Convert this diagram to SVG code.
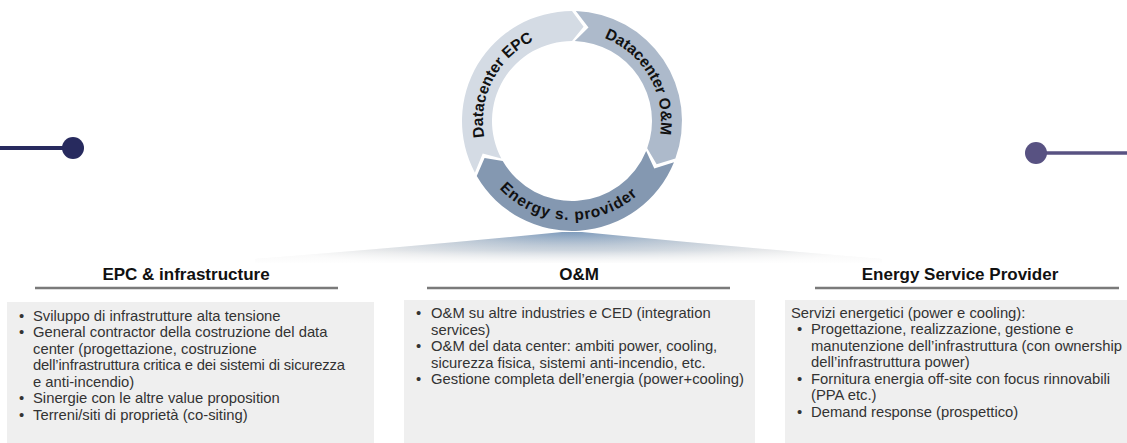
<svg xmlns="http://www.w3.org/2000/svg" width="1127" height="443" viewBox="0 0 1127 443">
  <style>
    .ring-label { font-family: "Liberation Sans", Arial, sans-serif; font-size: 15.5px; font-weight: bold; fill: #111; }
    .head { font-family: "Liberation Sans", Arial, sans-serif; font-size: 17px; font-weight: bold; fill: #111; text-anchor: middle; }
    .body { font-family: "Liberation Sans", Arial, sans-serif; font-size: 14.8px; fill: #333; }
    .rule { stroke: #7a7a7a; stroke-width: 2.5; }
    .panel { fill: #efefef; }
  </style>
  <defs>
    <radialGradient id="stageFill" gradientUnits="userSpaceOnUse" cx="572" cy="232" r="330" gradientTransform="translate(0,232) scale(1,0.12) translate(0,-232)">
      <stop offset="0" stop-color="#7e9bbc"/>
      <stop offset="0.35" stop-color="#b3c1d0"/>
      <stop offset="0.75" stop-color="#e2e4e6"/>
      <stop offset="1" stop-color="#f6f6f6"/>
    </radialGradient>
    <linearGradient id="stageFade" x1="0" y1="232" x2="0" y2="263" gradientUnits="userSpaceOnUse">
      <stop offset="0" stop-color="#fff" stop-opacity="0"/>
      <stop offset="0.6" stop-color="#fff" stop-opacity="0.2"/>
      <stop offset="1" stop-color="#fff" stop-opacity="0.9"/>
    </linearGradient>
    <path id="arcEPC" d="M497.36,169.47 A89,89 0 0 1 567.34,32.12"/>
    <path id="arcOM" d="M572,32 A89,89 0 0 1 649.08,165.5"/>
    <path id="arcESP" d="M484.19,166.71 A99,99 0 0 0 655.5,174.19"/>
  </defs>

  <!-- side timeline markers -->
  <g id="marker-left">
    <line x1="0" y1="148" x2="66" y2="148" stroke="#272a5e" stroke-width="4"/>
    <circle cx="73" cy="148" r="11" fill="#272a5e"/>
  </g>
  <g id="marker-right">
    <line x1="1040" y1="153" x2="1127" y2="153" stroke="#585282" stroke-width="3.5"/>
    <circle cx="1036" cy="153" r="11" fill="#585282"/>
  </g>

  <!-- cycle of three arrow segments -->
  <g id="cycle-epc">
    <path d="M474.88,172.64 A110,110 0 0 1 572,11 L583.58,26.71 L572,41 A80,80 0 0 0 501.36,158.56 L482.73,153.49 Z" fill="#d4dbe4"/>
    <text class="ring-label"><textPath href="#arcEPC" startOffset="50%" text-anchor="middle">Datacenter EPC</textPath></text>
  </g>
  <g id="cycle-om">
    <path d="M575.84,11.07 A110,110 0 0 1 675.37,158.62 L656.65,164.13 L647.18,148.36 A80,80 0 0 0 574.79,41.05 L588.5,27.44 Z" fill="#adbacb"/>
    <text class="ring-label"><textPath href="#arcOM" startOffset="50%" text-anchor="middle">Datacenter O&amp;M</textPath></text>
  </g>
  <g id="cycle-energy">
    <path d="M673.99,162.21 A110,110 0 0 1 476.74,176 L484.55,158.12 L502.72,161 A80,80 0 0 0 646.17,150.97 L654.27,168.5 Z" fill="#8498b1"/>
    <text class="ring-label" letter-spacing="1"><textPath href="#arcESP" startOffset="50%" text-anchor="middle">Energy s. provider</textPath></text>
  </g>

  <!-- stage under the cycle -->
  <g id="stage">
    <path d="M255,259 Q420,246 562,232 L582,232 Q724,246 882,259 L882,263 L255,263 Z" fill="url(#stageFill)"/>
    <path d="M255,259 Q420,246 562,232 L582,232 Q724,246 882,259 L882,263 L255,263 Z" fill="url(#stageFade)"/>
  </g>

  <!-- EPC column -->
  <g id="col-epc">
    <text class="head" x="186" y="280">EPC &amp; infrastructure</text>
    <line class="rule" x1="35" y1="288" x2="338" y2="288"/>
    <rect class="panel" x="7" y="302" width="367" height="141"/>
    <g class="body">
      <text x="19" y="320.5">•</text><text x="33" y="320.5">Sviluppo di infrastrutture alta tensione</text>
      <text x="19" y="337">•</text><text x="33" y="337">General contractor della costruzione del data</text>
      <text x="33" y="353.5">center (progettazione, costruzione</text>
      <text x="33" y="370" textLength="312" lengthAdjust="spacing">dell’infrastruttura critica e dei sistemi di sicurezza</text>
      <text x="33" y="386.5">e anti-incendio)</text>
      <text x="19" y="403">•</text><text x="33" y="403">Sinergie con le altre value proposition</text>
      <text x="19" y="419.5">•</text><text x="33" y="419.5">Terreni/siti di proprietà (co-siting)</text>
    </g>
  </g>

  <!-- O&M column -->
  <g id="col-om">
    <text class="head" x="579" y="280">O&amp;M</text>
    <line class="rule" x1="427" y1="288" x2="730" y2="288"/>
    <rect class="panel" x="404" y="300" width="351" height="143"/>
    <g class="body">
      <text x="416" y="318">•</text><text x="431" y="318">O&amp;M su altre industries e CED (integration</text>
      <text x="431" y="334.5">services)</text>
      <text x="416" y="351">•</text><text x="431" y="351">O&amp;M del data center: ambiti power, cooling,</text>
      <text x="431" y="367.5">sicurezza fisica, sistemi anti-incendio, etc.</text>
      <text x="416" y="384">•</text><text x="431" y="384">Gestione completa dell’energia (power+cooling)</text>
    </g>
  </g>

  <!-- Energy Service Provider column -->
  <g id="col-esp">
    <text class="head" x="960" y="280">Energy Service Provider</text>
    <line class="rule" x1="815" y1="288" x2="1119" y2="288"/>
    <rect class="panel" x="785" y="300" width="342" height="143"/>
    <g class="body">
      <text x="791" y="317.5">Servizi energetici (power e cooling):</text>
      <text x="797" y="334">•</text><text x="811" y="334">Progettazione, realizzazione, gestione e</text>
      <text x="811" y="350.5">manutenzione dell’infrastruttura (con ownership</text>
      <text x="811" y="367">dell’infrastruttura power)</text>
      <text x="797" y="383.5">•</text><text x="811" y="383.5">Fornitura energia off-site con focus rinnovabili</text>
      <text x="811" y="400">(PPA etc.)</text>
      <text x="797" y="416.5">•</text><text x="811" y="416.5">Demand response (prospettico)</text>
    </g>
  </g>
</svg>
